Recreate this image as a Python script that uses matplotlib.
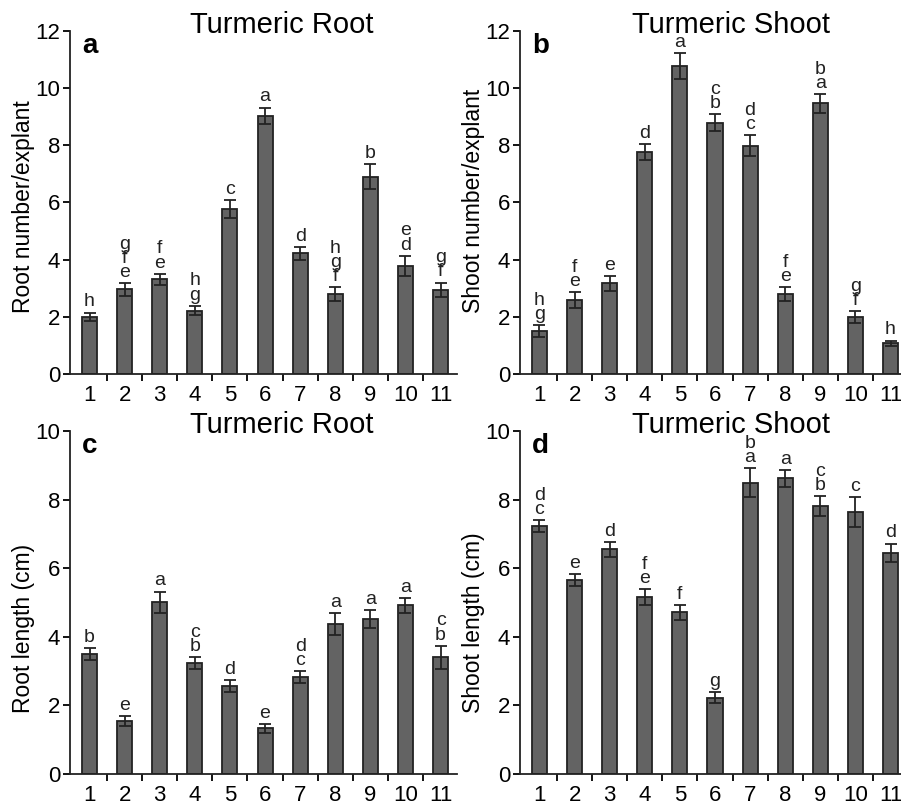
import matplotlib
matplotlib.use("Agg")
import matplotlib.pyplot as plt
import numpy as np

plt.rcParams["font.family"] = ["Liberation Sans", "DejaVu Sans"]

treatments = list(range(1, 12))
tick_labels = [str(t) for t in treatments]

# panel a: root number per explant
root_num = [2.0, 2.96, 3.31, 2.22, 5.77, 9.04, 4.22, 2.8, 6.9, 3.78, 2.94]
root_num_err = [0.15, 0.22, 0.2, 0.17, 0.3, 0.28, 0.23, 0.23, 0.43, 0.36, 0.26]
root_num_sig = ["h", "g\nf\ne", "f\ne", "h\ng", "c", "a", "d", "h\ng\nf", "b", "e\nd", "g\nf"]

# panel b: shoot number per explant
shoot_num = [1.5, 2.59, 3.17, 7.76, 10.78, 8.79, 7.98, 2.8, 9.47, 2.0, 1.07]
shoot_num_err = [0.22, 0.27, 0.27, 0.29, 0.46, 0.29, 0.37, 0.23, 0.33, 0.2, 0.1]
shoot_num_sig = ["h\ng", "f\ne", "e", "d", "a", "c\nb", "d\nc", "f\ne", "b\na", "g\nf", "h"]

# panel c: root length (cm)
root_len = [3.49, 1.55, 5.01, 3.23, 2.57, 1.33, 2.82, 4.38, 4.52, 4.92, 3.4]
root_len_err = [0.17, 0.15, 0.31, 0.17, 0.17, 0.13, 0.17, 0.32, 0.26, 0.22, 0.34]
root_len_sig = ["b", "e", "a", "c\nb", "d", "e", "d\nc", "a", "a", "a", "c\nb"]

# panel d: shoot length (cm)
shoot_len = [7.23, 5.66, 6.55, 5.15, 4.71, 2.23, 8.49, 8.62, 7.81, 7.63, 6.45]
shoot_len_err = [0.18, 0.18, 0.22, 0.23, 0.21, 0.15, 0.42, 0.24, 0.3, 0.44, 0.27]
shoot_len_sig = ["d\nc", "e", "d", "f\ne", "f", "g", "b\na", "a", "c\nb", "c", "d"]

BAR = "#636363"
EDGE = "#222222"

fig = plt.figure(figsize=(9.01, 8.02), dpi=100)

panels = [
    ([0.0777, 0.5337, 0.4296, 0.4277], root_num, root_num_err, root_num_sig,
     "Turmeric Root", "Root number/explant", "a", 12),
    ([0.5771, 0.5337, 0.4296, 0.4277], shoot_num, shoot_num_err, shoot_num_sig,
     "Turmeric Shoot", "Shoot number/explant", "b", 12),
    ([0.0777, 0.0349, 0.4296, 0.4277], root_len, root_len_err, root_len_sig,
     "Turmeric Root", "Root length (cm)", "c", 10),
    ([0.5771, 0.0349, 0.4296, 0.4277], shoot_len, shoot_len_err, shoot_len_sig,
     "Turmeric Shoot", "Shoot length (cm)", "d", 10),
]

for rect, vals, errs, sig, title, ylabel, letter, ymax in panels:
    ax = fig.add_axes(rect)
    x = np.array(treatments)
    ax.bar(x, vals, width=0.43, color=BAR, edgecolor=EDGE, linewidth=1.3, zorder=2)
    ax.errorbar(x, vals, yerr=errs, fmt="none", ecolor=EDGE, elinewidth=1.3,
                capsize=4.5, capthick=1.3, zorder=3)
    for xi, v, e, s in zip(x, vals, errs, sig):
        ax.annotate(s, (xi, v + e), xytext=(0, 1.5), textcoords="offset points",
                    ha="center", va="bottom", fontsize=14, linespacing=0.78,
                    color="#222222")

    ax.set_xlim(0.444, 11.47)
    ax.set_ylim(0, ymax)
    ax.set_yticks(np.arange(0, ymax + 1, 2))
    ax.set_xticks(x)
    ax.set_xticklabels(tick_labels)
    ax.set_xticks(np.arange(1.5, 11.0, 1.0), minor=True)
    ax.tick_params(axis="x", which="major", length=0, pad=8, labelsize=16)
    ax.tick_params(axis="x", which="minor", length=5, width=1.3, direction="out")
    ax.tick_params(axis="y", length=5, width=1.3, direction="out", pad=2, labelsize=16)
    for side in ("top", "right"):
        ax.spines[side].set_visible(False)
    for side in ("left", "bottom"):
        ax.spines[side].set_linewidth(1.3)
        ax.spines[side].set_color(EDGE)

    ax.set_ylabel(ylabel, fontsize=16.5)
    ax.yaxis.label.set_horizontalalignment("left")
    ax.yaxis.set_label_coords(-0.09, 0.178)
    ax.text(0.546, 0.994, title, transform=ax.transAxes, ha="center",
            va="baseline", fontsize=21)
    ax.text(0.031, 0.936, letter, transform=ax.transAxes, ha="left",
            va="baseline", fontsize=20, fontweight="bold")

fig.savefig("out.png", dpi=100)
